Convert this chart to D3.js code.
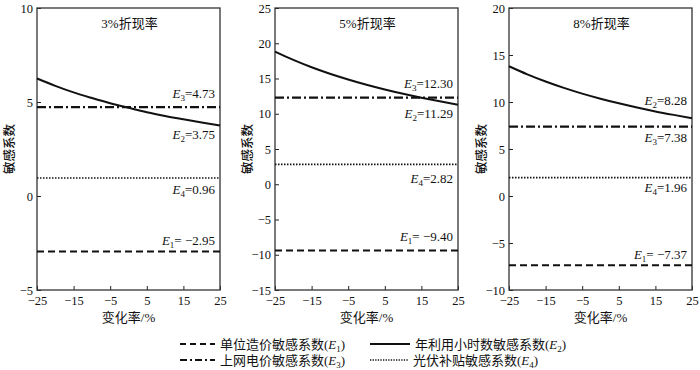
<!DOCTYPE html>
<meta charset="utf-8" />
<script src="https://d3js.org/d3.v7.min.js"></script>
<style>
  body { margin: 0; background: #fff; }
  svg text { font-family: "Times New Roman", "Liberation Serif", "DejaVu Serif", "Noto Sans CJK SC", serif; fill: #111; }
  svg text.cjk { font-family: "Noto Sans CJK SC", sans-serif; font-weight: 500; }
</style>
<div id="my_dataviz"></div>
<script>
  // data
  const changeRate = [-25, -20, -15, -10, -5, 0, 5, 10, 15, 20, 25];
  const panelTitles = ["3%折现率", "5%折现率", "8%折现率"];
  const e1Values = [-2.95, -9.4, -7.37];
  const e3Values = [4.73, 12.3, 7.38];
  const e4Values = [0.96, 2.82, 1.96];
  const e2Panel1 = [6.25, 5.86, 5.51, 5.21, 4.93, 4.69, 4.46, 4.26, 4.08, 3.91, 3.75];
  const e2Panel2 = [18.82, 17.64, 16.6, 15.68, 14.86, 14.11, 13.44, 12.83, 12.27, 11.76, 11.29];
  const e2Panel3 = [13.8, 12.94, 12.18, 11.5, 10.89, 10.35, 9.86, 9.41, 9.0, 8.63, 8.28];
  const e2Series = [e2Panel1, e2Panel2, e2Panel3];
  const yDomains = [[-5, 10], [-15, 25], [-10, 20]];
  const xTickValues = [-25, -15, -5, 5, 15, 25];
  const legendNames = ["单位造价敏感系数", "年利用小时数敏感系数", "上网电价敏感系数", "光伏补贴敏感系数"];

  // layout
  const width = 700, height = 370;
  const plotTop = 8, plotBottom = 290;
  const panelLeft = [37, 275, 509];
  const plotW = 183;
  // label vertical offsets (px) from the line for E1..E4 in each panel
  const labelOffsets = [
    { 1: -11, 2: 9, 3: -14, 4: 12 },
    { 1: -14, 2: 9, 3: -14, 4: 14 },
    { 1: -11, 2: -18, 3: 11, 4: 10 }
  ];
  const dashes = { 1: "7,4", 2: null, 3: "9,3,2,3", 4: "1.5,1.5" };
  const widths = { 1: 2, 2: 2, 3: 2.2, 4: 1.6 };

  const svg = d3.select("#my_dataviz")
    .append("svg")
    .attr("width", width)
    .attr("height", height);

  function addSub(text, idx, size) {
    text.append("tspan").style("font-style", "italic").text("E");
    text.append("tspan").attr("font-size", size).attr("dy", 3).text(idx);
  }

  panelTitles.forEach(function (title, i) {
    const x = d3.scaleLinear().domain([-25, 25]).range([panelLeft[i], panelLeft[i] + plotW]);
    const y = d3.scaleLinear().domain(yDomains[i]).range([plotBottom, plotTop]);
    const g = svg.append("g");

    // axes with inward ticks
    g.append("g")
      .attr("transform", `translate(0,${plotBottom})`)
      .call(d3.axisBottom(x).tickValues(xTickValues).tickSize(-4).tickPadding(6))
      .call(a => a.select(".domain").remove())
      .selectAll("text").attr("font-size", 12.5);

    const yTicks = d3.range(yDomains[i][0], yDomains[i][1] + 1, 5);
    g.append("g")
      .attr("transform", `translate(${panelLeft[i]},0)`)
      .call(d3.axisLeft(y).tickValues(yTicks).tickSize(-4).tickPadding(4))
      .call(a => a.select(".domain").remove())
      .selectAll("text").attr("font-size", 12.5);

    g.selectAll(".tick line").attr("stroke", "#222");

    // frame
    g.append("rect")
      .attr("x", panelLeft[i]).attr("y", plotTop)
      .attr("width", plotW).attr("height", plotBottom - plotTop)
      .attr("fill", "none").attr("stroke", "#333").attr("stroke-width", 1.3);

    // horizontal lines E1, E3, E4
    const flat = [
      { k: 1, v: e1Values[i] },
      { k: 3, v: e3Values[i] },
      { k: 4, v: e4Values[i] }
    ];
    const line = d3.line().x(d => x(d[0])).y(d => y(d[1]));
    flat.forEach(function (f) {
      g.append("path")
        .attr("d", line([[x.domain()[0], f.v], [x.domain()[1], f.v]]))
        .attr("fill", "none")
        .attr("stroke", "#111")
        .attr("stroke-width", widths[f.k])
        .attr("stroke-dasharray", dashes[f.k]);
    });

    // E2 curve
    const pts = changeRate.map((c, j) => [c, e2Series[i][j]]);
    g.append("path")
      .attr("d", line.curve(d3.curveMonotoneX)(pts))
      .attr("fill", "none")
      .attr("stroke", "#111")
      .attr("stroke-width", widths[2]);

    // value labels
    const e2Last = e2Series[i][e2Series[i].length - 1];
    const labels = [
      { k: 1, v: e1Values[i] },
      { k: 2, v: e2Last },
      { k: 3, v: e3Values[i] },
      { k: 4, v: e4Values[i] }
    ];
    labels.forEach(function (l) {
      const t = g.append("text")
        .attr("x", panelLeft[i] + plotW - 5)
        .attr("y", y(l.v) + labelOffsets[i][l.k] + 4.5)
        .attr("text-anchor", "end")
        .attr("font-size", 13);
      addSub(t, l.k, 9);
      const txt = l.v < 0 ? "= \u2212" + Math.abs(l.v).toFixed(2) : "=" + l.v.toFixed(2);
      t.append("tspan").attr("dy", -3).text(txt);
    });

    // title
    g.append("text")
      .attr("x", panelLeft[i] + plotW / 2 + 1)
      .attr("y", 28)
      .attr("text-anchor", "middle")
      .attr("font-size", 13)
      .text(title);

    // axis titles
    g.append("text")
      .attr("class", "cjk")
      .attr("transform", `translate(${panelLeft[i] - 23},${(plotTop + plotBottom) / 2}) rotate(-90)`)
      .attr("text-anchor", "middle")
      .attr("font-size", 12.5)
      .text("敏感系数");

    g.append("text")
      .attr("x", panelLeft[i] + plotW / 2)
      .attr("y", 322)
      .attr("text-anchor", "middle")
      .attr("font-size", 13)
      .text("变化率/%");
  });

  // legend
  const legendItems = [
    { k: 1, x: 180, y: 344, len: 35 },
    { k: 2, x: 370, y: 344, len: 40 },
    { k: 3, x: 180, y: 360, len: 35 },
    { k: 4, x: 370, y: 360, len: 38 }
  ];
  const legendDash = { 1: "6,4", 2: null, 3: "7,3,2,3", 4: "1.3,1.3" };
  legendItems.forEach(function (it) {
    const lg = svg.append("g");
    lg.append("line")
      .attr("x1", it.x).attr("x2", it.x + it.len)
      .attr("y1", it.y).attr("y2", it.y)
      .attr("stroke", "#111")
      .attr("stroke-width", it.k === 4 ? 1.3 : 2)
      .attr("stroke-dasharray", legendDash[it.k]);
    const t = lg.append("text")
      .attr("x", it.x + it.len + 5)
      .attr("y", it.y + 4.5)
      .attr("font-size", 13);
    t.append("tspan").text(legendNames[it.k - 1] + "(");
    addSub(t, it.k, 9);
    t.append("tspan").attr("dy", -3).text(")");
  });
</script>
